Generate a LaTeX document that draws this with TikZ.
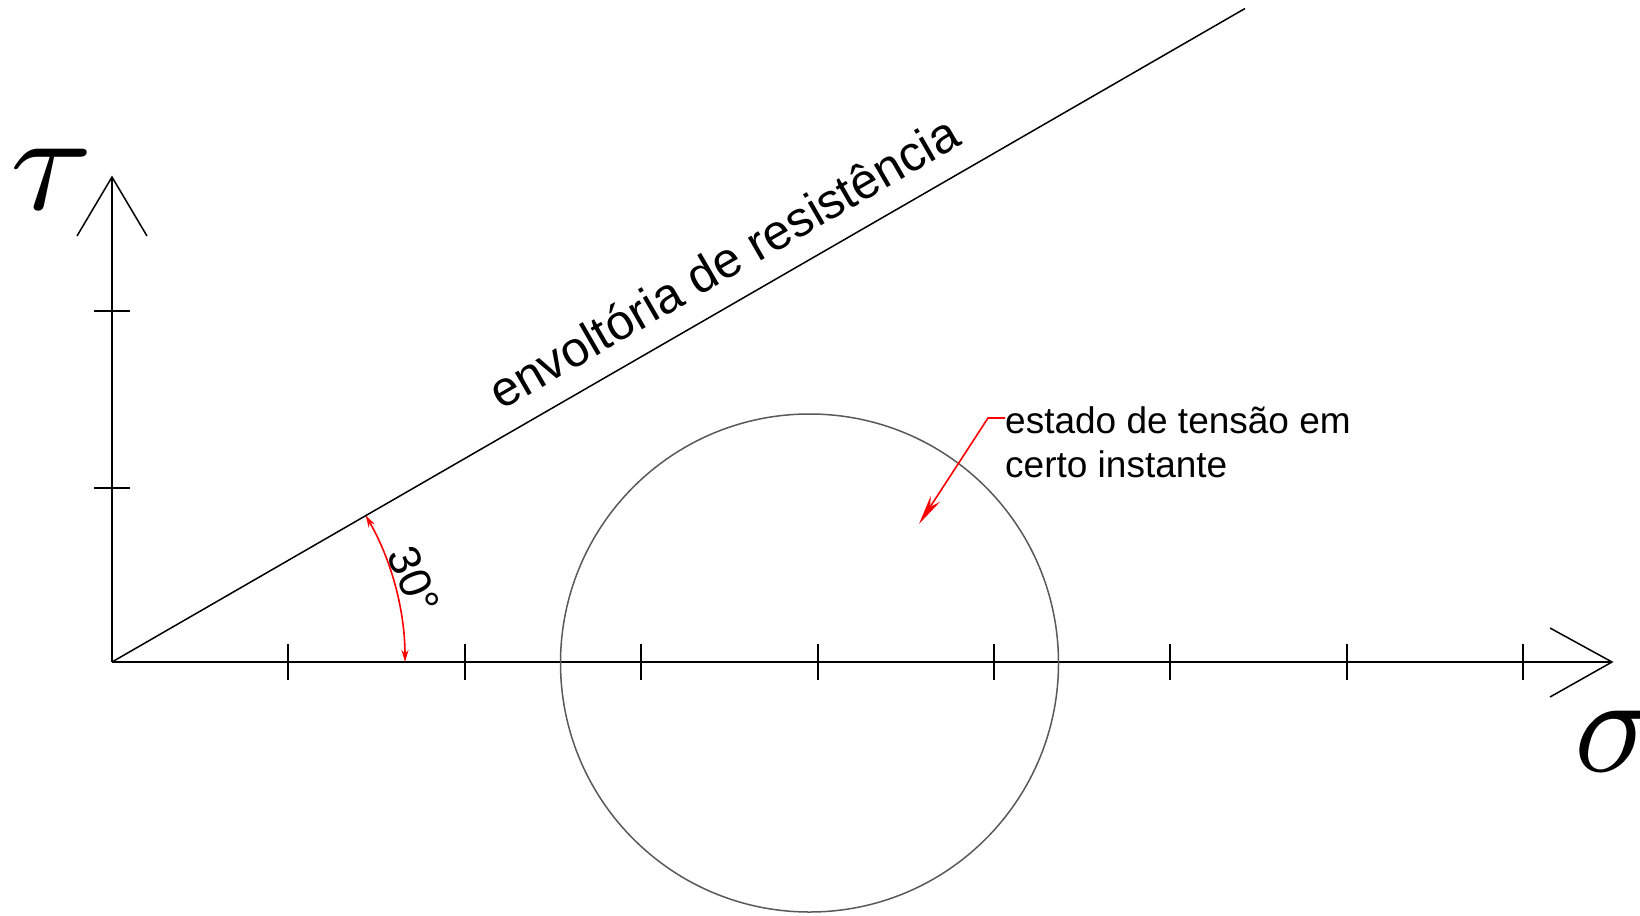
\documentclass[tikz,border=0pt]{standalone}
\usepackage{fontspec}
\setmainfont{Liberation Sans}
\usetikzlibrary{arrows.meta}
\begin{document}
\begin{tikzpicture}[x=1pt,y=-1pt,
  axis/.style={line width=2.4pt,black},
  tickmark/.style={line width=2pt,black},
  head/.style={line width=1.5pt,black},
  redline/.style={red,line width=1.6pt},
  lbl/.style={font=\fontsize{37}{44}\selectfont,inner sep=0pt}]
\useasboundingbox (0,0) rectangle (1640,915);
% axes
\coordinate (O) at (112,662);
\coordinate (X) at (1612,662);
\coordinate (Y) at (112,177);
\draw[axis] (O) -- (X);
\draw[axis] (O) -- (Y);
\coordinate (Xa) at (1550,628);
\coordinate (Xb) at (1550,697);
\coordinate (Ya) at (77,236);
\coordinate (Yb) at (147,236);
\draw[head] (Xa) -- (X) -- (Xb);
\draw[head] (Ya) -- (Y) -- (Yb);
% ticks
\foreach \i in {1,...,8}{
  \draw[tickmark] ({112+176.4*\i},644) -- ({112+176.4*\i},680);
}
\draw[tickmark] (94,310.6) -- (130,310.6);
\draw[tickmark] (94,488) -- (130,488);
% envelope
\coordinate (E) at (1245,8.5);
\draw[line width=1.5pt] (O) -- (E);
\node[font=\fontsize{49.5}{49.5}\selectfont,rotate=30,anchor=base west,inner sep=0pt] (env) at (501,411) {envoltória de resistência};
% circle
\node[circle,draw=black!65,line width=1.5pt,minimum size=498pt,inner sep=0pt] (C) at (809.5,663) {};
% angle
\coordinate (A1) at (405,662);
\draw[redline,{Stealth[length=12pt,width=7pt]}-{Stealth[length=12pt,width=7pt]}] (A1) arc[start angle=0,end angle=30,radius=293pt];
\node[font=\fontsize{45}{45}\selectfont,inner sep=0pt,rotate=-68] (ang) at (414,580) {30°};
% labels
\node[lbl,anchor=base west,align=left] (est) at (1005,477) {estado de tensão em\\certo instante};
\coordinate (L1) at (988,418);
\coordinate (T) at (919,524);
\draw[redline,-{Stealth[length=30pt,width=11pt]}] ([yshift=59pt]est.base west) -- (L1) -- (T);
\node[inner sep=0pt] (tau) at (52,179) {\scalebox{15}[14]{$\tau$}};
\node[inner sep=0pt] (sigma) at (1617,741) {\scalebox{14}{$\sigma$}};
\end{tikzpicture}
\end{document}
